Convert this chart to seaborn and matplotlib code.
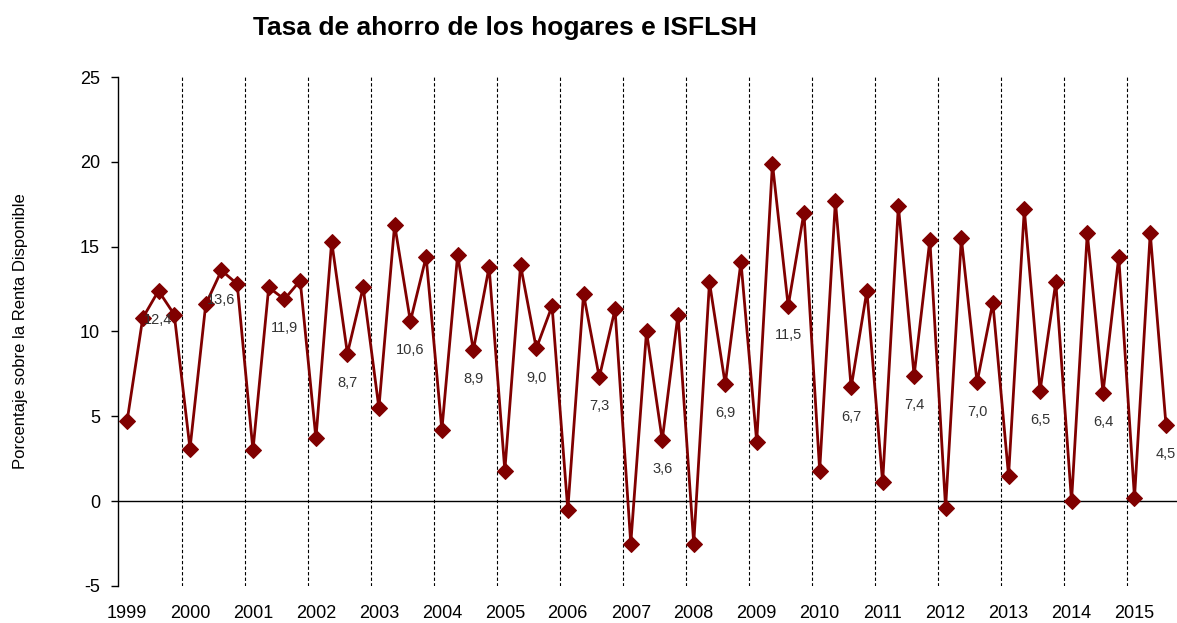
import numpy as np
import pandas as pd
import matplotlib
matplotlib.use('Agg')
import matplotlib.pyplot as plt
import seaborn as sns

# Tasa de ahorro trimestral (1999T1 - 2015T3)
years = list(range(1999, 2016))
quarters = ['T1', 'T2', 'T3', 'T4']
tasa = [4.7, 10.8, 12.4, 11.0,
        3.1, 11.6, 13.6, 12.8,
        3.0, 12.6, 11.9, 13.0,
        3.7, 15.3, 8.7, 12.6,
        5.5, 16.3, 10.6, 14.4,
        4.2, 14.5, 8.9, 13.8,
        1.8, 13.9, 9.0, 11.5,
        -0.5, 12.2, 7.3, 11.3,
        -2.5, 10.0, 3.6, 11.0,
        -2.5, 12.9, 6.9, 14.1,
        3.5, 19.9, 11.5, 17.0,
        1.8, 17.7, 6.7, 12.4,
        1.1, 17.4, 7.4, 15.4,
        -0.4, 15.5, 7.0, 11.7,
        1.5, 17.2, 6.5, 12.9,
        0.0, 15.8, 6.4, 14.4,
        0.2, 15.8, 4.5]

periodo = [f'{y}{q}' for y in years for q in quarters][:len(tasa)]
df = pd.DataFrame({'periodo': periodo, 'tasa': tasa})
df['i'] = np.arange(len(df))

sns.set_style('white')
plt.rcParams['font.family'] = ['Liberation Sans', 'DejaVu Sans']
plt.rcParams['axes.unicode_minus'] = False
plt.rcParams['text.color'] = 'black'
plt.rcParams['xtick.color'] = 'black'
plt.rcParams['ytick.color'] = 'black'
plt.rcParams['axes.labelcolor'] = 'black'

fig = plt.figure(figsize=(11.77, 6.23), dpi=100)
ax = fig.add_axes([0.1003, 0.0594, 0.8997, 0.817])

color = '#800000'
sns.lineplot(data=df, x='i', y='tasa', ax=ax, color=color, lw=2,
             marker='D', markersize=8.5, markeredgecolor=color, zorder=3)

# separadores de año
for k in range(1, len(years)):
    ax.axvline(4 * k - 0.5, color='black', lw=0.8, ls=(0, (3, 2)), zorder=1)
ax.axhline(0, color='black', lw=1.0, zorder=2)

# etiquetas del tercer trimestre
for _, r in df[df['i'] % 4 == 2].iterrows():
    ax.annotate(f"{r['tasa']:.1f}".replace('.', ','), (r['i'], r['tasa']),
                xytext=(0, -21), textcoords='offset points',
                ha='center', va='center', fontsize=10.5, color='#333333')

ax.set_xlim(-0.57, 66.7)
ax.set_ylim(-5, 25)
ax.set_yticks(range(-5, 26, 5))
ax.set_xticks([4 * k for k in range(len(years))])
ax.set_xticklabels([str(y) for y in years], fontsize=13)
ax.tick_params(axis='x', length=0, pad=14)
ax.tick_params(axis='y', length=5, width=1, direction='out', left=True, labelsize=13, pad=8)
for s in ['top', 'right', 'bottom']:
    ax.spines[s].set_visible(False)
ax.spines['left'].set_color('black')
ax.spines['left'].set_linewidth(1)
ax.set_xlabel('')
ax.set_ylabel('Porcentaje sobre la Renta Disponible', fontsize=12, labelpad=37)

fig.text(0.429, 0.955, 'Tasa de ahorro de los hogares e ISFLSH', ha='center', va='center',
         fontsize=19, fontweight='bold')

fig.savefig('out.png', dpi=100)
